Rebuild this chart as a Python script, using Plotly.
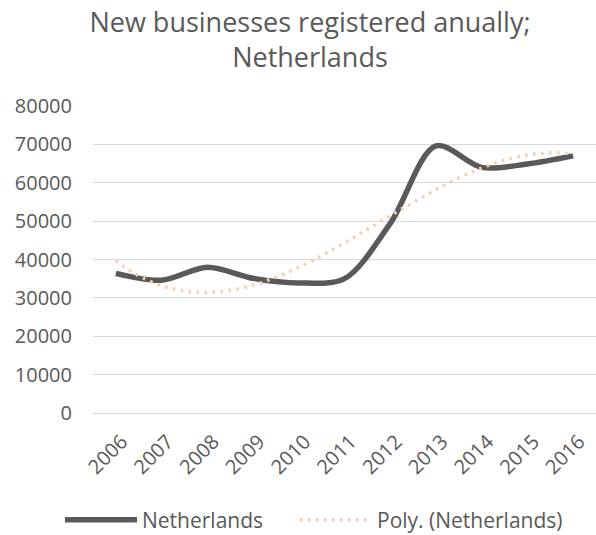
import numpy as np
import plotly.graph_objects as go

# New business registrations per year in the Netherlands
years = ["2006", "2007", "2008", "2009", "2010", "2011",
         "2012", "2013", "2014", "2015", "2016"]
registrations = [36400, 34600, 38000, 35100, 33900, 35000,
                 49400, 69600, 64000, 64900, 67000]

y_ticks = [0, 10000, 20000, 30000, 40000, 50000, 60000, 70000, 80000]

TEXT = "#595959"
GRID = "#d9d9d9"

# Third-order polynomial trendline fitted to the yearly counts
idx = np.arange(len(years))
coef = np.polyfit(idx, registrations, 3)
fine = np.linspace(0, len(years) - 1, 201)
trend = np.polyval(coef, fine)

fig = go.Figure()

fig.add_trace(go.Scatter(
    x=idx, y=registrations, mode="lines", name="Netherlands",
    line=dict(color="#595959", width=5.5, shape="spline", smoothing=0.9),
    legend="legend",
))

fig.add_trace(go.Scatter(
    x=fine, y=trend, mode="lines", name="Poly. (Netherlands)",
    line=dict(color="#f8cbad", width=3.5, dash="2.5px,5.5px"),
    legend="legend2",
))

legend_style = dict(
    orientation="h", xref="container", yref="container",
    xanchor="left", y=1 - 520 / 535, yanchor="middle",
    font=dict(family="Open Sans", size=21, color=TEXT),
    itemwidth=72, bgcolor="rgba(0,0,0,0)",
)

fig.update_layout(
    width=596, height=535,
    margin=dict(l=93, r=0, t=106, b=122),
    paper_bgcolor="white", plot_bgcolor="white",
    font=dict(family="Open Sans", color=TEXT, size=20),
    title=dict(
        text="New businesses registered anually;<br>Netherlands",
        font=dict(family="Open Sans", size=27, color=TEXT),
        x=310 / 596, xref="container", xanchor="center",
        y=1 - 32 / 535, yref="container", yanchor="top",
    ),
    showlegend=True,
    legend=dict(x=60 / 596, **legend_style),
    legend2=dict(x=295 / 596, **legend_style),
)

fig.update_xaxes(
    tickmode="array", tickvals=idx, ticktext=years,
    range=[-0.5, len(years) - 0.5],
    tickangle=-45, showgrid=False, zeroline=False,
    showline=False, ticks="",
    ticklabelstandoff=12, ticklabelshift=6,
    tickfont=dict(family="Open Sans", size=20, color=TEXT),
)

fig.update_yaxes(
    range=[0, 80000], tickvals=y_ticks,
    showgrid=True, gridcolor=GRID, gridwidth=1.25,
    zeroline=True, zerolinecolor=GRID, zerolinewidth=1.25,
    showline=False, ticks="", ticklabelstandoff=20,
    tickformat="d",
    tickfont=dict(family="Open Sans", size=20, color=TEXT),
)

fig.write_html("out.html")
